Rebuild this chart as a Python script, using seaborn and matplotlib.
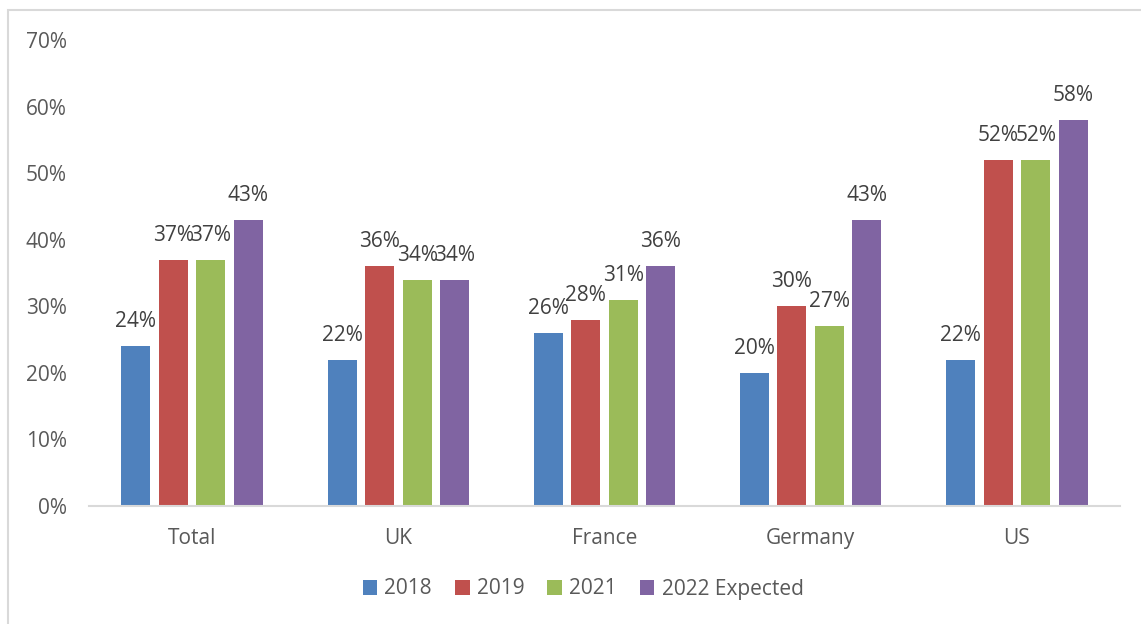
import matplotlib
matplotlib.use("Agg")
import matplotlib.pyplot as plt
import seaborn as sns
import pandas as pd
from matplotlib.patches import Rectangle

categories = ["Total", "UK", "France", "Germany", "US"]
series_names = ["2018", "2019", "2021", "2022 Expected"]
v2018 = [0.24, 0.22, 0.26, 0.20, 0.22]
v2019 = [0.37, 0.36, 0.28, 0.30, 0.52]
v2021 = [0.37, 0.34, 0.31, 0.27, 0.52]
v2022 = [0.43, 0.34, 0.36, 0.43, 0.58]
y_ticks = [0, 0.1, 0.2, 0.3, 0.4, 0.5, 0.6, 0.7]
y_tick_labels = ["0%", "10%", "20%", "30%", "40%", "50%", "60%", "70%"]

colors = ["#4F81BD", "#C0504D", "#9BBB59", "#8064A2"]

rows = []
for name, vals in zip(series_names, [v2018, v2019, v2021, v2022]):
    for c, v in zip(categories, vals):
        rows.append({"Region": c, "Series": name, "Value": v})
df = pd.DataFrame(rows)

sns.set_theme(style="white")
plt.rcParams["font.family"] = ["Open Sans", "DejaVu Sans"]

fig = plt.figure(figsize=(11.41, 6.24), dpi=100)
ax = fig.add_axes([89/1141, 1 - 506/624, (1120 - 89)/1141, (506 - 40)/624])

sns.barplot(data=df, x="Region", y="Value", hue="Series", order=categories,
            hue_order=series_names, palette=colors, width=0.728, gap=0.227,
            saturation=1, errorbar=None, ax=ax, legend=True, linewidth=0)

for cont in ax.containers:
    ax.bar_label(cont, labels=[f"{v*100:.0f}%" for v in cont.datavalues],
                 padding=10, fontsize=15, color="#404040")

ax.set_ylim(0, 0.7)
ax.set_xlim(-0.5, 4.5)
ax.set_yticks(y_ticks)
ax.set_yticklabels(y_tick_labels)
ax.set_xlabel("")
ax.set_ylabel("")
for s in ["top", "right", "left"]:
    ax.spines[s].set_visible(False)
ax.spines["bottom"].set_color("#d9d9d9")
ax.spines["bottom"].set_linewidth(1.5)
ax.tick_params(axis="y", length=0, pad=16, labelsize=15, labelcolor="#595959")
ax.tick_params(axis="x", length=0, pad=16, labelsize=15, labelcolor="#595959")

handles, labels = ax.get_legend_handles_labels()
ax.legend_.remove()
fig.legend(handles, labels, loc="center", bbox_to_anchor=(583/1141, 1 - 589/624),
           ncol=4, frameon=False, fontsize=15, handlelength=0.7, handleheight=0.7,
           handletextpad=0.35, columnspacing=1.1, labelcolor="#595959")

fig.patches.append(Rectangle((8/1141, -0.1), 1.2, 1 - 10/624 + 0.1,
                             transform=fig.transFigure, fill=False,
                             edgecolor="#d9d9d9", linewidth=1.5))

fig.savefig("out.png", dpi=100)
